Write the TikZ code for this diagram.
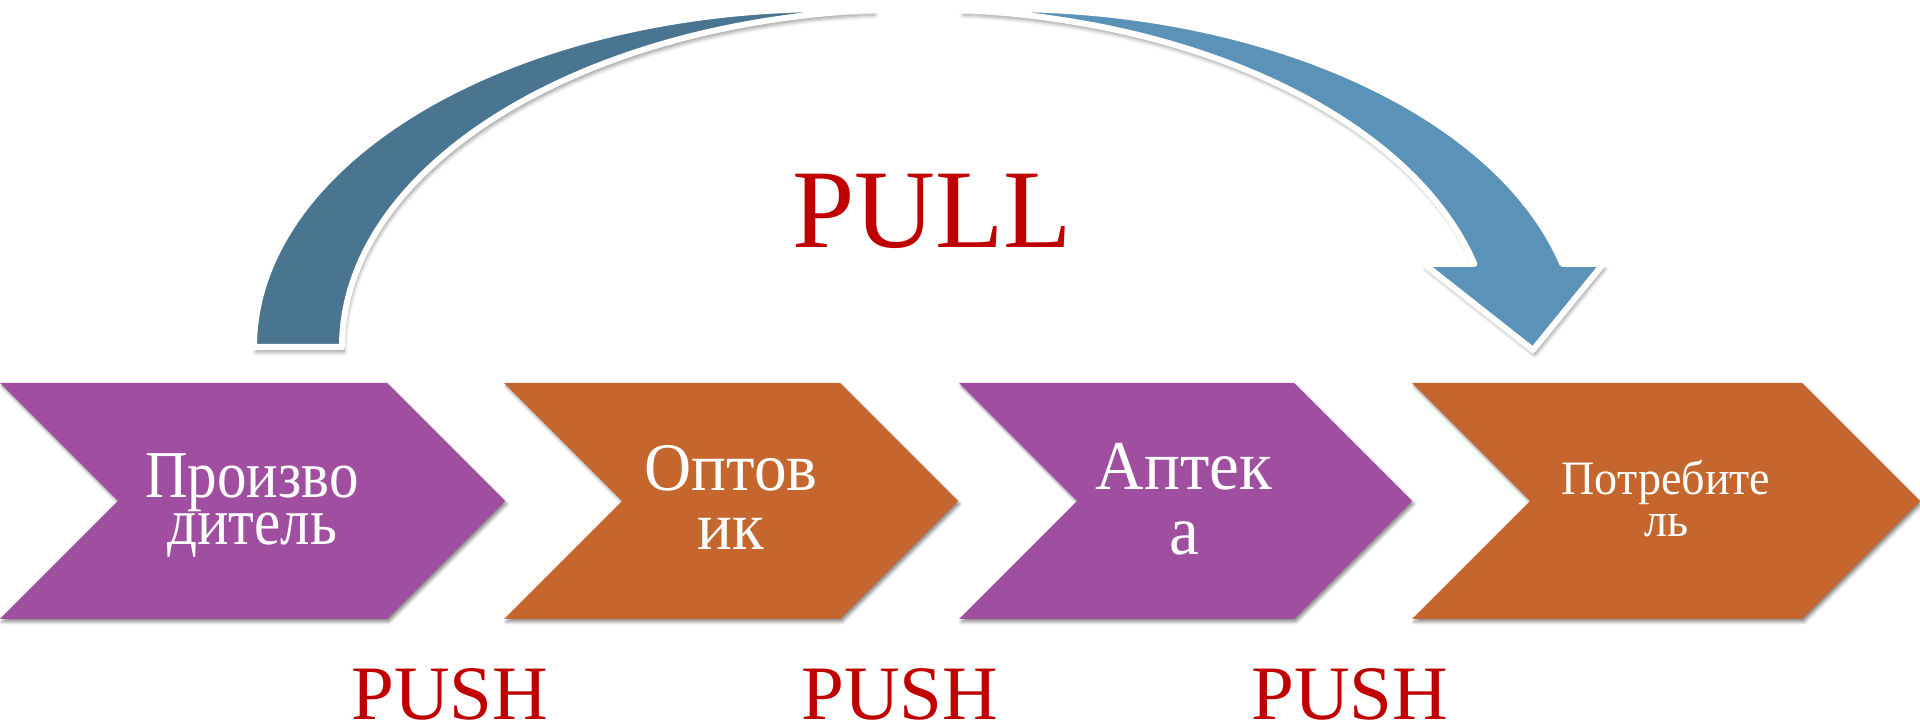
\documentclass[tikz,border=0pt]{standalone}
\usepackage{fontspec}
\setmainfont{Liberation Serif}
\newfontfamily\rufont[FakeStretch=0.88]{Liberation Serif}
\newfontfamily\rufontw[FakeStretch=0.96]{Liberation Serif}
\usetikzlibrary{shadows.blur}
\definecolor{chpurple}{RGB}{160,78,160}
\definecolor{chorange}{RGB}{196,102,46}
\definecolor{arrdark}{RGB}{74,117,145}
\definecolor{arrlight}{RGB}{91,147,184}
\definecolor{redtxt}{RGB}{192,0,0}
\begin{document}
\begin{tikzpicture}[x=1pt,y=1pt,
  chev/.style={blur shadow={shadow xshift=2pt,shadow yshift=-3pt,shadow blur radius=3pt,shadow blur steps=6,shadow opacity=45}},
  arrband/.style={draw=white,line width=6pt,line join=round,
    blur shadow={shadow xshift=2pt,shadow yshift=-5pt,shadow blur radius=4pt,shadow blur steps=6,shadow opacity=40}},
  ell/.style={x radius=575pt,y radius=338pt},
  chtext/.style={text=white,align=center,inner sep=0pt,anchor=base},
  redlbl/.style={text=redtxt,inner sep=0pt,anchor=base}
  ]
\useasboundingbox (0,0) rectangle (1920,728);
% chevrons
\fill[chpurple,chev] (0,345) -- (387,345) -- (505,227) -- (387,109) -- (0,109) -- (118,227) -- cycle;
\fill[chorange,chev] (504,345) -- (840,345) -- (958,227) -- (840,109) -- (504,109) -- (622,227) -- cycle;
\fill[chpurple,chev] (959,345) -- (1294,345) -- (1412,227) -- (1294,109) -- (959,109) -- (1077,227) -- cycle;
\fill[chorange,chev] (1412,345) -- (1802,345) -- (1920,227) -- (1802,109) -- (1412,109) -- (1530,227) -- cycle;
% texts (anchor = baseline of last line)
\node[chtext,font=\rufont\fontsize{67}{47}\selectfont] (t1) at (252,183) {Произво\\дитель};
\node[chtext,font=\rufontw\fontsize{68}{59}\selectfont] (t2) at (731,178) {Оптов\\ик};
\node[chtext,font=\rufontw\fontsize{70}{65}\selectfont] (t3) at (1184,173) {Аптек\\а};
\node[chtext,font=\rufontw\fontsize{48}{42}\selectfont] (t4) at (1666,191) {Потребите\\ль};
% curved arrow
\filldraw[arrdark,arrband] (254,381) arc[start angle=180,end angle=85.61,ell]
   arc[start angle=94.39,end angle=180,ell] -- cycle;
\filldraw[arrlight,arrband] (961,718) arc[start angle=85.61,end angle=14.22,ell]
   -- (1424,464) -- (1533,378) -- (1603,464) -- (1562.4,464)
   arc[start angle=14.22,end angle=94.39,ell] -- cycle;
\draw[white,line width=6pt] (873,718) arc[start angle=94.39,end angle=85.61,ell];
% labels
\node[redlbl,font=\fontsize{112}{112}\selectfont] (pull) at (932,480) {PULL};
\node[redlbl,font=\fontsize{77}{77}\selectfont] (push1) at (450,8) {PUSH};
\node[redlbl,font=\fontsize{77}{77}\selectfont] (push2) at (900,8) {PUSH};
\node[redlbl,font=\fontsize{77}{77}\selectfont] (push3) at (1350,8) {PUSH};
\end{tikzpicture}
\end{document}
